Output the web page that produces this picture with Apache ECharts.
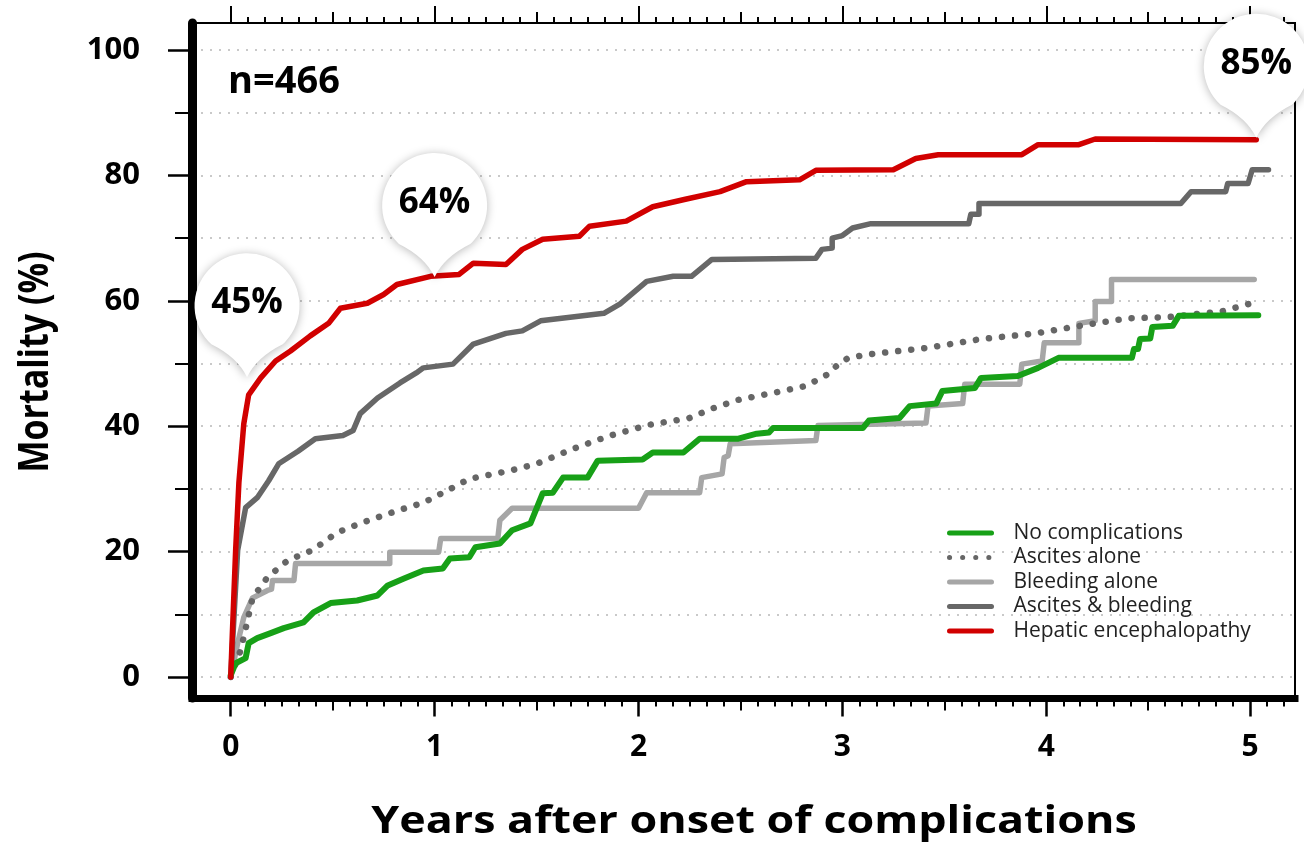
<!DOCTYPE html>
<html><head><meta charset="utf-8">
<script src="https://cdn.jsdelivr.net/npm/echarts@6/dist/echarts.min.js"></script>
<style>html,body{margin:0;padding:0;background:#fff}#c{width:1304px;height:848px}</style>
</head><body><div id="c"></div><script>
// ---- data (years, mortality %) ----
const seriesNames = ['No complications', 'Ascites alone', 'Bleeding alone', 'Ascites & bleeding', 'Hepatic encephalopathy'];

const noComplications = [[0,0.3],[0.024,2.2],[0.073,3],[0.088,5.4],[0.13,6.2],[0.196,7],[0.26,7.8],[0.357,8.7],[0.406,10.3],[0.49,11.8],[0.62,12.2],[0.72,13],[0.77,14.6],[0.85,15.7],[0.945,17],[1.04,17.3],[1.075,18.9],[1.17,19.1],[1.2,20.7],[1.32,21.3],[1.38,23.4],[1.47,24.5],[1.53,29.3],[1.58,29.4],[1.63,31.8],[1.75,31.8],[1.8,34.5],[2.02,34.7],[2.07,35.8],[2.22,35.8],[2.3,38],[2.49,38],[2.58,38.8],[2.64,39],[2.66,39.7],[3.1,39.7],[3.13,40.9],[3.28,41.3],[3.33,43.2],[3.46,43.6],[3.49,45.6],[3.65,46.1],[3.68,47.7],[3.86,48],[3.96,49.3],[4.06,50.9],[4.42,50.9],[4.43,52.3],[4.45,52.3],[4.46,53.9],[4.51,54],[4.52,55.8],[4.62,56],[4.65,57.6],[5.04,57.7]];

const ascitesAlone = [[0,0],[0.049,4.3],[0.064,6.4],[0.107,12.6],[0.18,15.9],[0.28,18.6],[0.4,20.2],[0.52,23],[0.635,24.5],[0.815,26.5],[0.945,27.8],[1.06,29.7],[1.17,31.6],[1.37,32.9],[1.5,34],[1.68,36.4],[1.86,38.5],[2.05,40.2],[2.25,41.3],[2.36,42.8],[2.49,44.2],[2.69,45.5],[2.82,46.4],[2.93,48.3],[2.98,49.9],[3.03,50.9],[3.14,51.5],[3.42,52.5],[3.68,53.9],[3.95,54.8],[4.2,56.2],[4.4,57.2],[4.6,57.4],[4.86,58.3],[5.04,59.9]];

const bleedingAlone = [[0,0],[0.034,5.4],[0.064,9.5],[0.107,12.6],[0.18,13.8],[0.2,14],[0.205,15.4],[0.31,15.4],[0.318,18.1],[0.78,18.1],[0.78,19.9],[1.02,19.9],[1.03,22.1],[1.31,22.1],[1.32,25],[1.38,26.9],[2.0,26.9],[2.04,29.4],[2.3,29.4],[2.31,31.8],[2.41,32.4],[2.42,35],[2.44,35.3],[2.45,37.2],[2.87,37.7],[2.88,40.1],[3.41,40.5],[3.42,43.2],[3.59,43.6],[3.6,46.7],[3.87,46.7],[3.88,49.9],[3.98,50.4],[3.99,53.3],[4.16,53.3],[4.16,56.4],[4.24,56.8],[4.24,59.9],[4.32,59.9],[4.32,63.4],[5.02,63.4]];

const ascitesBleeding = [[0,0],[0.02,12],[0.034,20.2],[0.073,27],[0.13,28.6],[0.186,31.3],[0.235,34],[0.33,36],[0.415,38],[0.55,38.5],[0.6,39.3],[0.635,42],[0.72,44.5],[0.83,46.9],[0.91,48.5],[0.945,49.3],[1.09,49.9],[1.19,53.1],[1.35,54.8],[1.43,55.2],[1.52,56.8],[1.83,58],[1.91,59.5],[2.04,63.1],[2.17,63.9],[2.26,63.9],[2.36,66.6],[2.87,66.8],[2.9,68.2],[2.95,68.4],[2.95,70],[3.0,70.4],[3.05,71.6],[3.14,72.3],[3.62,72.3],[3.63,73.8],[3.67,73.8],[3.67,75.5],[4.66,75.5],[4.71,77.4],[4.88,77.4],[4.89,78.7],[4.99,78.7],[5.01,80.9],[5.09,80.9]];

const hepaticEnceph = [[0,0],[0.008,7],[0.024,20.2],[0.04,31],[0.064,40.4],[0.088,45],[0.147,47.7],[0.22,50.4],[0.293,52],[0.39,54.4],[0.48,56.4],[0.538,58.8],[0.67,59.6],[0.75,61],[0.815,62.6],[0.98,63.9],[1.12,64.2],[1.19,66],[1.35,65.8],[1.43,68.2],[1.53,69.8],[1.71,70.3],[1.76,71.9],[1.94,72.7],[2.07,75],[2.23,76.2],[2.4,77.4],[2.53,79],[2.79,79.3],[2.87,80.8],[3.25,80.9],[3.36,82.7],[3.47,83.3],[3.88,83.3],[3.96,84.9],[4.16,84.9],[4.24,85.8],[5.03,85.7]];

// callouts (pin tips) and their values
const calloutX = [0.08, 1.0, 5.03];
const calloutY = [47.8, 63.8, 86.0];
const calloutValues = [45, 64, 85];

// ticks
const xYearTicks = [0, 1, 2, 3, 4, 5];
const xHalfTicks = [0.5, 1.5, 2.5, 3.5, 4.5];
const xMonthTicks = [];
for (let m = 1; m <= 62; m++) if (m % 6) xMonthTicks.push(m / 12);
const yLabelTicks = [0, 20, 40, 60, 80, 100];
const yMinorTicks = [10, 30, 50, 70, 90];
const yGridTicks = [0, 10, 20, 30, 40, 50, 60, 70, 80, 90, 100];

const XMIN = -0.19, XMAX = 5.22, YMIN = -3.35, YMAX = 104.3;
const FONT = '"Open Sans", "Noto Sans", sans-serif';
const PIN = 'path://M16.8 91 A52.5 52.5 0 1 1 88.2 91 Q62 104 52.5 124 Q43 104 16.8 91 Z';

function xAx(pos, ticks, len, extra) {
  return Object.assign({
    type: 'value', position: pos, min: XMIN, max: XMAX,
    axisLine: { show: false, onZero: false },
    axisTick: { show: true, customValues: ticks, length: len, lineStyle: { color: '#000', width: 2 } },
    axisLabel: { show: false },
    splitLine: { show: false }
  }, extra || {});
}
function yAx(ticks, len, extra) {
  return Object.assign({
    type: 'value', position: 'left', offset: 0, min: YMIN, max: YMAX,
    axisLine: { show: false, onZero: false },
    axisTick: { show: true, customValues: ticks, length: len, lineStyle: { color: '#000', width: 2 } },
    axisLabel: { show: false },
    splitLine: { show: false }
  }, extra || {});
}

const chart = echarts.init(document.getElementById('c'), null, { renderer: 'canvas' });
const lineBase = { type: 'line', showSymbol: false, symbol: 'none', xAxisIndex: 0, yAxisIndex: 0, animation: false, clip: true };

chart.setOption({
  animation: false,
  backgroundColor: '#fff',
  textStyle: { fontFamily: FONT },
  grid: { left: 192, right: 9, top: 23, bottom: 150, show: true, borderColor: '#000', borderWidth: 2, containLabel: false, outerBoundsMode: 'none' },
  xAxis: [
    xAx('bottom', xYearTicks, 18.5, {
      axisLine: { show: true, onZero: false, lineStyle: { color: '#000', width: 7, cap: 'square' } },
      axisTick: { show: true, customValues: xYearTicks, length: 18.5, lineStyle: { color: '#000', width: 2.5 } },
      axisLabel: { show: true, customValues: xYearTicks, margin: 34, fontSize: 30, fontWeight: 'bold', color: '#000', fontFamily: FONT }
    }),
    xAx('bottom', xHalfTicks, 12.5),
    xAx('bottom', xMonthTicks, 8.5),
    xAx('top', xYearTicks, 17),
    xAx('top', xHalfTicks, 11),
    xAx('top', xMonthTicks, 6)
  ],
  yAxis: [
    yAx(yLabelTicks, 24, {
      axisLine: { show: true, onZero: false, lineStyle: { color: '#000', width: 9 } },
      axisTick: { show: true, customValues: yLabelTicks, length: 24, lineStyle: { color: '#000', width: 2.5 } },
      axisLabel: { show: true, customValues: yLabelTicks, margin: 52, fontSize: 31, fontWeight: 'bold', color: '#000', fontFamily: FONT }
    }),
    yAx(yMinorTicks, 17),
    yAx(yGridTicks, 0, {
      axisTick: { show: false, customValues: yGridTicks },
      splitLine: { show: true, lineStyle: { color: '#c9c9c9', width: 2, type: [2, 7] } }
    })
  ],
  legend: {
    orient: 'vertical', left: 947, top: 522, padding: 0,
    itemWidth: 42, itemHeight: 14, itemGap: 2.5,
    data: seriesNames,
    lineStyle: { width: 5 },
    itemStyle: { opacity: 0 },
    textStyle: { fontFamily: FONT, fontSize: 21, color: '#222', lineHeight: 22, padding: [0, 0, 0, 17] }
  },
  series: [
    Object.assign({}, lineBase, { name: seriesNames[2], data: bleedingAlone, z: 2,
      lineStyle: { color: '#a6a6a6', width: 5.5, cap: 'round', join: 'round' }, itemStyle: { color: '#a6a6a6' } }),
    Object.assign({}, lineBase, { name: seriesNames[1], data: ascitesAlone, z: 2,
      lineStyle: { color: '#666666', width: 6.5, type: [0.1, 13], cap: 'round', join: 'round' }, itemStyle: { color: '#666666' } }),
    Object.assign({}, lineBase, { name: seriesNames[3], data: ascitesBleeding, z: 2,
      lineStyle: { color: '#676767', width: 5.5, cap: 'round', join: 'round' }, itemStyle: { color: '#676767' } }),
    Object.assign({}, lineBase, { name: seriesNames[0], data: noComplications, z: 3,
      lineStyle: { color: '#17a017', width: 6, cap: 'round', join: 'round' }, itemStyle: { color: '#17a017' } }),
    Object.assign({}, lineBase, { name: seriesNames[4], data: hepaticEnceph, z: 3,
      lineStyle: { color: '#d10000', width: 5.5, cap: 'round', join: 'round' }, itemStyle: { color: '#d10000' },
      markPoint: {
        symbol: PIN, symbolSize: [105, 124], symbolOffset: [0, -62], z: 10,
        itemStyle: { color: '#ffffff', opacity: 1, shadowBlur: 10, shadowColor: 'rgba(0,0,0,0.28)', shadowOffsetY: 1 },
        label: { show: true, formatter: '{c}%', fontSize: 35, fontWeight: 'bold', color: '#000', fontFamily: FONT, offset: [0, -12] },
        data: calloutX.map((x, i) => ({ coord: [x, calloutY[i]], value: calloutValues[i] }))
      } })
  ],
  graphic: [
    { type: 'text', x: 228, y: 82, z: 20, style: { text: 'n=466', font: 'bold 38px ' + FONT, fill: '#000', align: 'left', verticalAlign: 'middle' } },
    { type: 'text', x: 754, y: 822, scaleX: 1.18, z: 20, style: { text: 'Years after onset of complications', font: 'bold 38px ' + FONT, fill: '#000', align: 'center', verticalAlign: 'middle' } },
    { type: 'text', x: 36, y: 362, rotation: Math.PI / 2, scaleY: 1.2, z: 20, style: { text: 'Mortality (%)', font: 'bold 34px ' + FONT, fill: '#000', align: 'center', verticalAlign: 'middle' } }
  ]
});
</script></body></html>
